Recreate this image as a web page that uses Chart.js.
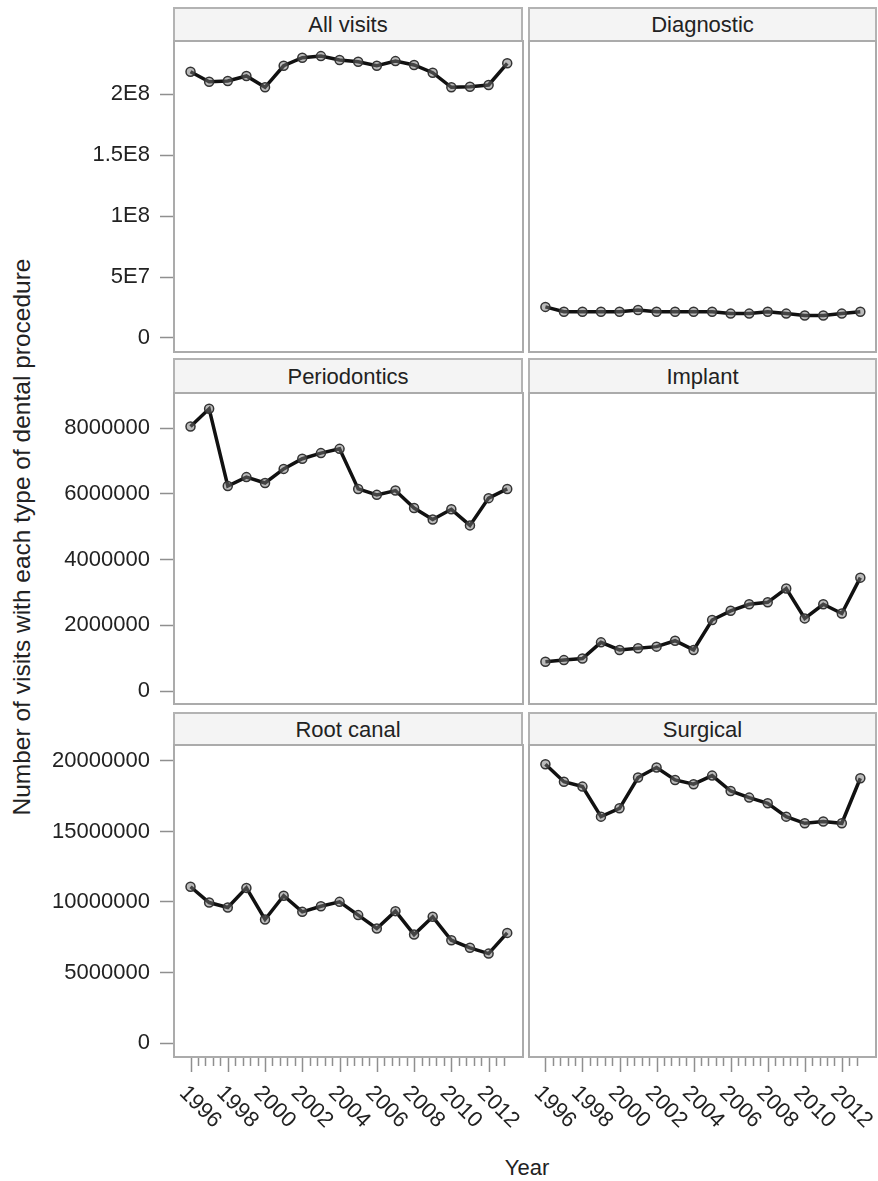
<!DOCTYPE html>
<html>
<head>
<meta charset="utf-8">
<script src="https://cdn.jsdelivr.net/npm/chart.js@4.4.1/dist/chart.umd.min.js"></script>
<style>
  body { margin: 0; background: #fff; width: 878px; height: 1181px; position: relative; overflow: hidden;
         font-family: "Liberation Sans", Arial, sans-serif; color: #222; }
  .hdr { position: absolute; box-sizing: border-box; background: #f4f4f4; border: 2px solid #b3b3b3;
         border-bottom: none; font-size: 22px; text-align: center; }
  canvas { position: absolute; }
  .label { position: absolute; font-size: 22px; white-space: nowrap; }
</style>
</head>
<body>
<div class="label" id="ytitle" style="left:22px;top:537px;font-size:24.5px;transform:translate(-50%,-50%) rotate(-90deg)">Number of visits with each type of dental procedure</div>
<div class="label" style="left:527px;top:1168px;transform:translate(-50%,-50%)">Year</div>
<script>
const YEARS = [1996, 1997, 1998, 1999, 2000, 2001, 2002, 2003, 2004, 2005, 2006, 2007, 2008, 2009, 2010, 2011, 2012, 2013];

const ALL_VISITS = [2.183e8, 2.101e8, 2.107e8, 2.148e8, 2.055e8, 2.232e8, 2.298e8, 2.311e8, 2.279e8,
                    2.265e8, 2.232e8, 2.270e8, 2.238e8, 2.175e8, 2.055e8, 2.060e8, 2.074e8, 2.252e8];
const DIAGNOSTIC = [2.55e7, 2.15e7, 2.15e7, 2.15e7, 2.15e7, 2.30e7, 2.15e7, 2.15e7, 2.15e7,
                    2.15e7, 2.00e7, 2.00e7, 2.15e7, 2.00e7, 1.85e7, 1.85e7, 2.00e7, 2.15e7];
const PERIODONTICS = [8.05e6, 8.59e6, 6.24e6, 6.51e6, 6.33e6, 6.76e6, 7.07e6, 7.24e6, 7.37e6,
                      6.15e6, 5.97e6, 6.10e6, 5.57e6, 5.22e6, 5.53e6, 5.04e6, 5.87e6, 6.15e6];
const IMPLANT = [0.89e6, 0.94e6, 0.99e6, 1.48e6, 1.25e6, 1.30e6, 1.35e6, 1.53e6, 1.25e6,
                 2.16e6, 2.44e6, 2.64e6, 2.70e6, 3.12e6, 2.21e6, 2.64e6, 2.36e6, 3.45e6];
const ROOT_CANAL = [11.08e6, 9.96e6, 9.61e6, 11.0e6, 8.76e6, 10.44e6, 9.30e6, 9.70e6, 10.01e6,
                    9.07e6, 8.12e6, 9.35e6, 7.69e6, 8.95e6, 7.29e6, 6.75e6, 6.34e6, 7.81e6];
const SURGICAL = [19.76e6, 18.53e6, 18.18e6, 16.05e6, 16.64e6, 18.82e6, 19.53e6, 18.65e6, 18.35e6,
                  18.96e6, 17.87e6, 17.40e6, 17.00e6, 16.05e6, 15.58e6, 15.70e6, 15.58e6, 18.77e6];

const ROW1_TICKS = [0, 5e7, 1e8, 1.5e8, 2e8];
const ROW1_TICK_LABELS = ['0', '5E7', '1E8', '1.5E8', '2E8'];
const ROW2_TICKS = [0, 2e6, 4e6, 6e6, 8e6];
const ROW2_TICK_LABELS = ['0', '2000000', '4000000', '6000000', '8000000'];
const ROW3_TICKS = [0, 5e6, 1e7, 1.5e7, 2e7];
const ROW3_TICK_LABELS = ['0', '5000000', '10000000', '15000000', '20000000'];
const X_TICK_LABELS = [1996, 1998, 2000, 2002, 2004, 2006, 2008, 2010, 2012];
const X_MINOR_STEP = 0.4;

const FONT = '"Liberation Sans", Arial, sans-serif';
const FRAME_COLOR = '#ababab';
const TICK_COLOR = '#8f8f8f';

const ROWS = [
  { hdrTop: 7,   top: 40,  height: 313, min: -1.23e7, max: 2.443e8, ticks: ROW1_TICKS, labels: ROW1_TICK_LABELS },
  { hdrTop: 358, top: 392, height: 313, min: -4.26e5, max: 9.10e6,  ticks: ROW2_TICKS, labels: ROW2_TICK_LABELS },
  { hdrTop: 712, top: 744, height: 314, min: -1.06e6, max: 2.12e7,  ticks: ROW3_TICKS, labels: ROW3_TICK_LABELS },
];
const COLS = [
  { left: 0,   plotLeft: 173, width: 524 },
  { left: 528, plotLeft: 528, width: 350 },
];
const PANELS = [
  { title: 'All visits',   values: ALL_VISITS,   row: 0, col: 0 },
  { title: 'Diagnostic',   values: DIAGNOSTIC,   row: 0, col: 1 },
  { title: 'Periodontics', values: PERIODONTICS, row: 1, col: 0 },
  { title: 'Implant',      values: IMPLANT,      row: 1, col: 1 },
  { title: 'Root canal',   values: ROOT_CANAL,   row: 2, col: 0 },
  { title: 'Surgical',     values: SURGICAL,     row: 2, col: 1 },
];
const BOTTOM_PAD = 100;

// frame around each panel, plus the year axis under the bottom row
const panelFrame = {
  id: 'panelFrame',
  afterDraw(chart, args, opts) {
    const { ctx, chartArea: a } = chart;
    ctx.save();
    ctx.strokeStyle = FRAME_COLOR;
    ctx.lineWidth = 2;
    ctx.strokeRect(a.left + 1, a.top + 1, a.width - 2, a.height - 2);

    if (opts.yearAxis) {
      const xs = chart.scales.x;
      ctx.strokeStyle = TICK_COLOR;
      ctx.lineWidth = 1.5;
      const first = YEARS[0], last = YEARS[YEARS.length - 1];
      for (let k = 0; first + k * X_MINOR_STEP <= last + 1e-9; k++) {
        const px = Math.round(xs.getPixelForValue(first + k * X_MINOR_STEP)) + 0.5;
        const len = k % 5 === 0 ? 14 : 8;
        ctx.beginPath();
        ctx.moveTo(px, a.bottom);
        ctx.lineTo(px, a.bottom + len);
        ctx.stroke();
      }
      ctx.fillStyle = '#222';
      ctx.font = '22px ' + FONT;
      ctx.textAlign = 'left';
      ctx.textBaseline = 'top';
      X_TICK_LABELS.forEach(yr => {
        const px = xs.getPixelForValue(yr);
        ctx.save();
        ctx.translate(px, a.bottom + 24);
        ctx.rotate(Math.PI / 4);
        ctx.fillText(String(yr), 0, 0);
        ctx.restore();
      });
    }
    ctx.restore();
  }
};

PANELS.forEach(p => {
  const row = ROWS[p.row], col = COLS[p.col];
  const last = p.row === ROWS.length - 1;

  const hdr = document.createElement('div');
  hdr.className = 'hdr';
  hdr.textContent = p.title;
  const hdrH = row.top - row.hdrTop;
  hdr.style.cssText = `left:${col.plotLeft}px;top:${row.hdrTop}px;width:${p.col ? 349 : 350}px;height:${hdrH + 1}px;line-height:${hdrH - 1}px`;
  document.body.appendChild(hdr);

  const canvas = document.createElement('canvas');
  canvas.width = col.width;
  canvas.height = row.height + (last ? BOTTOM_PAD : 0);
  canvas.style.left = col.left + 'px';
  canvas.style.top = row.top + 'px';
  document.body.appendChild(canvas);

  new Chart(canvas, {
    type: 'line',
    data: {
      datasets: [{
        data: YEARS.map((x, i) => ({ x, y: p.values[i] })),
        borderColor: '#111',
        borderWidth: 3.5,
        tension: 0,
        pointRadius: 4.5,
        pointBorderWidth: 1.5,
        pointBorderColor: '#333',
        pointBackgroundColor: 'rgba(120,120,120,0.5)',
      }],
    },
    options: {
      responsive: false,
      animation: false,
      events: [],
      layout: {
        autoPadding: false,
        padding: { top: 0, left: 0, right: p.col ? 1 : 0, bottom: last ? BOTTOM_PAD : 0 },
      },
      plugins: {
        legend: { display: false },
        tooltip: { enabled: false },
        panelFrame: { yearAxis: last },
      },
      scales: {
        x: { type: 'linear', display: false, min: 1995.06, max: 2013.9 },
        y: {
          display: p.col === 0,
          min: row.min,
          max: row.max,
          afterBuildTicks: s => { s.ticks = row.ticks.map(v => ({ value: v })); },
          afterFit: s => {
            if (p.col !== 0) return;
            s.width = col.plotLeft;
            s.paddingTop = 0;
            s.paddingBottom = 0;
          },
          border: { display: false },
          grid: { drawOnChartArea: false, tickLength: 13, tickColor: TICK_COLOR, tickWidth: 1.5 },
          ticks: {
            padding: 10,
            color: '#222',
            font: { size: 22, family: FONT },
            callback: v => row.labels[row.ticks.indexOf(v)],
          },
        },
      },
    },
    plugins: [panelFrame],
  });
});
</script>
</body>
</html>
